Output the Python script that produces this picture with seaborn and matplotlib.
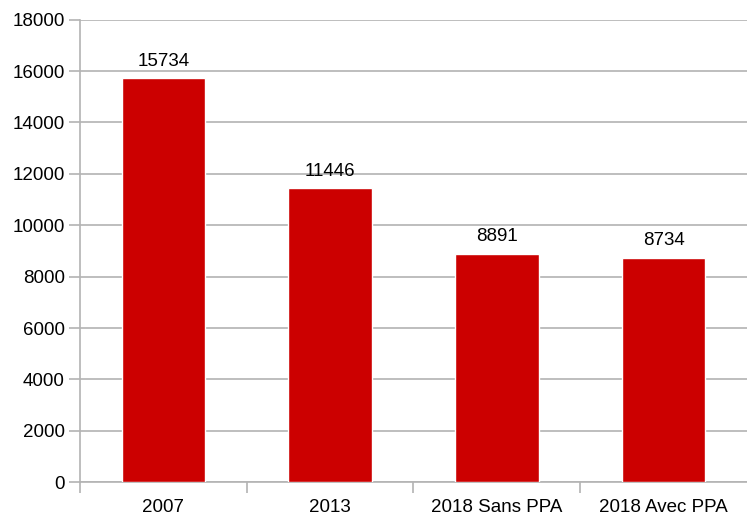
import matplotlib
matplotlib.use("Agg")
import matplotlib.pyplot as plt
import seaborn as sns
import pandas as pd

# data
categories = ["2007", "2013", "2018 Sans PPA", "2018 Avec PPA"]
values = [15734, 11446, 8891, 8734]

df = pd.DataFrame({"cat": categories, "val": values})

sns.set_style("white")
plt.rcParams['font.family'] = ['Liberation Sans', 'DejaVu Sans']
plt.rcParams['text.color'] = 'black'

fig = plt.figure(figsize=(7.47, 5.19), dpi=100)
ax = fig.add_axes([0.107, 0.071, 0.893, 0.891])

sns.barplot(data=df, x="cat", y="val", color="#cc0000", width=0.5,
            saturation=1, ax=ax, zorder=3)

ax.set_ylim(0, 18000)
ax.set_xlim(-0.5, 3.5)
ax.set_yticks(range(0, 18001, 2000))
ax.yaxis.grid(True, color="#b3b3b3", linewidth=1.2, zorder=0)
ax.set_axisbelow(True)

# category boundary ticks
ax.set_xticks([-0.5, 0.5, 1.5, 2.5], minor=True)
ax.tick_params(axis="x", which="major", length=0, pad=12, labelsize=13.5, labelcolor="black")
ax.tick_params(axis="x", which="minor", bottom=True, length=8, width=1.2, color="#b3b3b3")
ax.tick_params(axis="y", left=True, length=8, width=1.2, color="#b3b3b3", pad=3,
               labelsize=13.5, labelcolor="black")

for s in ["top", "right"]:
    ax.spines[s].set_visible(False)
for s in ["left", "bottom"]:
    ax.spines[s].set_color("#b3b3b3")
    ax.spines[s].set_linewidth(1.2)

ax.bar_label(ax.containers[0], labels=[str(v) for v in values], padding=6,
             fontsize=13.5, color="black")

ax.set_xlabel("")
ax.set_ylabel("")

fig.savefig("out.png", dpi=100)
